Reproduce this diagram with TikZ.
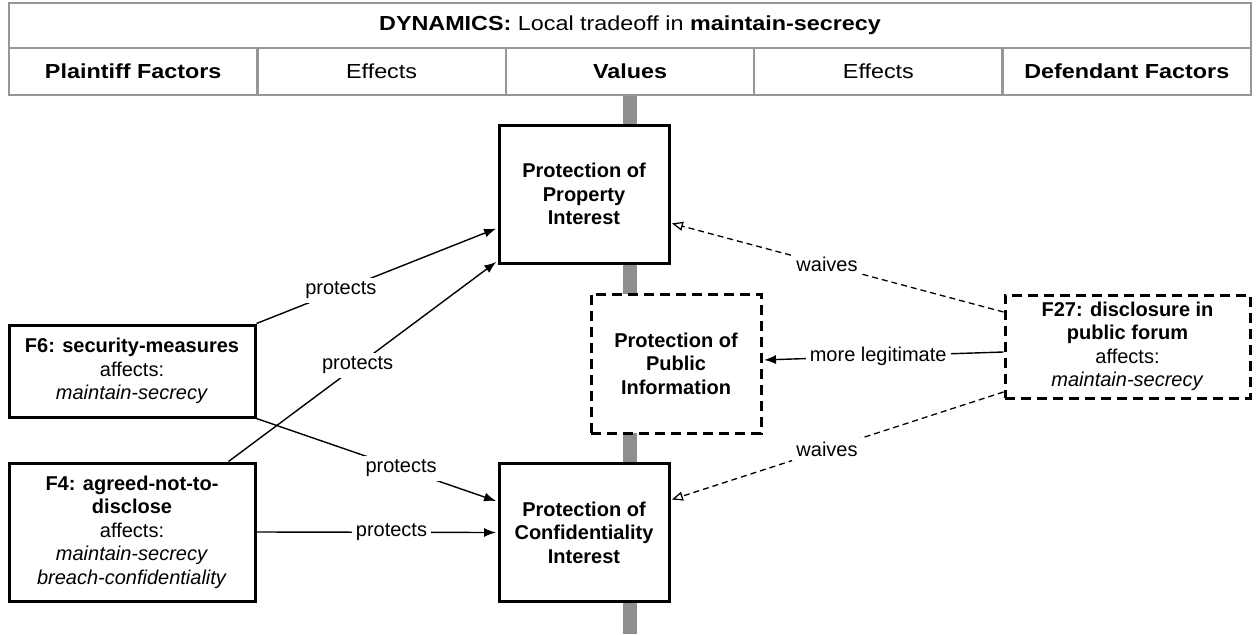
\documentclass[tikz,border=0pt]{standalone}
\usepackage{fontspec}
\setmainfont{Liberation Sans}
\newfontfamily\hdrfont[FakeStretch=1.15]{Liberation Sans}
\usetikzlibrary{arrows.meta}
\definecolor{hdrgray}{RGB}{150,150,150}
\definecolor{bargray}{RGB}{142,142,142}
\begin{document}
\begin{tikzpicture}[x=1pt,y=-1pt,
  every node/.style={font=\fontsize{20}{23.5}\selectfont},
  hdr/.style={draw=hdrgray, line width=2.5pt, inner sep=0pt, font={\hdrfont\fontsize{20.3}{24}\selectfont}},
  valbox/.style={draw, line width=3pt, fill=white, align=center, minimum width=170pt, minimum height=138pt, inner sep=0pt, font={\bfseries\fontsize{20}{23.5}\selectfont}},
  dbox/.style={dash pattern=on 10pt off 6pt},
  factor/.style={draw, line width=3pt, fill=white, align=center, inner sep=0pt, minimum width=246pt, font={\fontsize{20}{23.5}\selectfont}},
  lbl/.style={fill=white, inner sep=4pt, font={\fontsize{20}{23.5}\selectfont}},
  prot/.style={line width=1.4pt, shorten >=1.5pt, -{Latex[length=12pt,width=9pt]}},
  waive/.style={line width=1.3pt, shorten >=1.5pt, dash pattern=on 6pt off 4pt, -{Triangle[open,length=11pt,width=9pt]}}
]
\useasboundingbox (0,0) rectangle (1257,634);
% vertical value bar
\fill[bargray] (623,95) rectangle (637,634);
% header
\node[hdr, minimum width=1242pt, minimum height=45pt] (title) at (630,25.5) {\textbf{DYNAMICS:} Local tradeoff in \textbf{maintain-secrecy}};
\node[hdr, minimum width=248.4pt, minimum height=47pt] (h1) at (133.2,71.5) {\textbf{Plaintiff Factors}};
\node[hdr, minimum width=248.4pt, minimum height=47pt] (h2) at (381.6,71.5) {Effects};
\node[hdr, minimum width=248.4pt, minimum height=47pt] (h3) at (630,71.5) {\textbf{Values}};
\node[hdr, minimum width=248.4pt, minimum height=47pt] (h4) at (878.4,71.5) {Effects};
\node[hdr, minimum width=248.4pt, minimum height=47pt] (h5) at (1126.8,71.5) {\textbf{Defendant Factors}};
% value boxes
\node[valbox] (prop) at (584,194) {Protection of\\Property\\Interest};
\node[valbox, dbox, minimum height=139pt] (pub) at (676,363.5) {Protection of\\Public\\Information};
\node[valbox] (conf) at (584,532.5) {Protection of\\Confidentiality\\Interest};
% factor boxes
\node[factor, minimum height=92pt] (f6) at (132,371) {\textbf{F6: security-measures}\\affects:\\\textit{maintain-secrecy}};
\node[factor, minimum height=138pt] (f4) at (132,532) {\textbf{F4: agreed-not-to-}\\\textbf{disclose}\\affects:\\\textit{maintain-secrecy}\\\textit{breach-confidentiality}};
\node[factor, dbox, minimum width=245pt, minimum height=103pt] (f27) at (1127.5,346.5) {\textbf{F27: disclosure in}\\\textbf{public forum}\\affects:\\\textit{maintain-secrecy}};
% plaintiff effects
\draw[prot] (f6.north east) -- node[lbl,pos=.35]{protects} ([yshift=-34pt]prop.west);
\draw[prot] ([xshift=-28pt]f4.north east) -- node[lbl,pos=.48]{protects} ([yshift=-67pt]prop.west);
\draw[prot] (f6.south east) -- node[lbl,pos=.6]{protects} ([yshift=31pt]conf.west);
\draw[prot] (f4.east) -- node[lbl,pos=.56]{protects} (conf.west);
% defendant effects
\draw[waive] ([yshift=34.5pt]f27.west) -- node[lbl,pos=.53]{waives} ([yshift=-29pt]prop.east);
\draw[prot] ([yshift=-5.5pt]f27.west) -- node[lbl,pos=.52]{more legitimate} ([yshift=3.5pt]pub.east);
\draw[waive] ([yshift=-45.5pt]f27.west) -- node[lbl,pos=.53]{waives} ([yshift=32.5pt]conf.east);
\end{tikzpicture}
\end{document}
